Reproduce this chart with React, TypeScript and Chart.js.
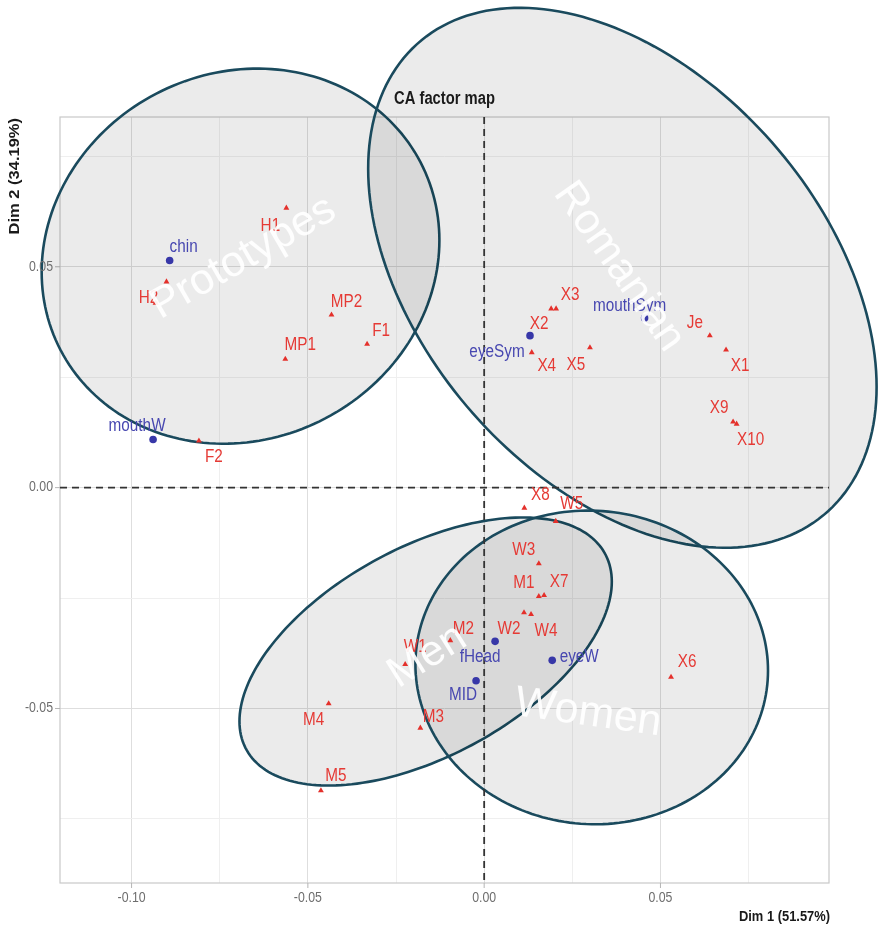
import React, { useEffect, useRef } from 'react';
import { Chart, registerables } from 'chart.js';

Chart.register(...registerables);

// ---------- DATA ----------
// Row points (red triangles)
const rowNames = ['H1', 'H2', '', 'MP1', 'MP2', 'F1', 'F2', 'X1', 'X2', 'X3', 'X4', 'X5', 'X6', 'X7', 'X8', 'X9', 'X10', 'Je', 'M1', 'M2', 'M3', 'M4', 'M5', 'W1', 'W2', 'W3', 'W4', 'W5'];
const rowX = [-0.0561, -0.0901, -0.0932, -0.0564, -0.0433, -0.0332, -0.0809, 0.0686, 0.0190, 0.0204, 0.0135, 0.0300, 0.0530, 0.0170, 0.0114, 0.0706, 0.0716, 0.0640, 0.0155, -0.0096, -0.0181, -0.0441, -0.0463, -0.0224, 0.0113, 0.0155, 0.0133, 0.0203];
const rowY = [0.0633, 0.0466, 0.0418, 0.0291, 0.0391, 0.0325, 0.0106, 0.0312, 0.0405, 0.0405, 0.0306, 0.0317, -0.0429, -0.0244, -0.0046, 0.0149, 0.0144, 0.0344, -0.0246, -0.0346, -0.0544, -0.0489, -0.0686, -0.0400, -0.0283, -0.0172, -0.0287, -0.0076];

// Column points (blue circles)
const colNames = ['chin', 'mouthW', 'eyeSym', 'mouthSym', 'fHead', 'eyeW', 'MID'];
const colX = [-0.0892, -0.0939, 0.0130, 0.0455, 0.0031, 0.0193, -0.0023];
const colY = [0.0514, 0.0109, 0.0344, 0.0384, -0.0348, -0.0391, -0.0437];

// Group ellipses (data units): centre, x half-range, y shift at x-extreme, remaining y radius
const ellipseNames = ['Prototypes', 'Romanian', 'Men', 'Women'];
const ellipseCx = [-0.0691, 0.0392, -0.0166, 0.0305];
const ellipseCy = [0.0524, 0.0475, -0.0371, -0.0407];
const ellipseHalfX = [0.0564, 0.0721, 0.0528, 0.0500];
const ellipseShearY = [0.0036, -0.0247, 0.0158, -0.0007];
const ellipseRadY = [0.0423, 0.0559, 0.0259, 0.0355];
const ellipseLabelX = [-0.0683, 0.0382, -0.0161, 0.0295];
const ellipseLabelY = [0.0520, 0.0500, -0.0382, -0.0511];
const ellipseLabelAngle = [-30, 55, -32, 8];

// Axes
const X_MIN = -0.1203;
const X_MAX = 0.0978;
const Y_MIN = -0.0895;
const Y_MAX = 0.0839;
const xGridValues = [-0.1, -0.075, -0.05, -0.025, 0, 0.025, 0.05, 0.075];
const yGridValues = [-0.075, -0.05, -0.025, 0, 0.025, 0.05, 0.075];
const xTickValues = [-0.1, -0.05, 0, 0.05];
const xTickLabels = ['-0.10', '-0.05', '0.00', '0.05'];
const yTickValues = [-0.05, 0, 0.05];
const yTickLabels = ['-0.05', '0.00', '0.05'];
const titleText = 'CA factor map';
const xTitle = 'Dim 1 (51.57%)';
const yTitle = 'Dim 2 (34.19%)';

// Label offsets (pixels, label centre relative to point)
const rowLabelDx = [-16, -18, 0, 15, 15, 14, 15, 14, -12, 14, 15, -14, 16, 15, 16, -14, 14, -15, -15, 13, 13, -15, 15, 10, -15, -15, 15, 16];
const rowLabelDy = [18, 16, 0, -14, -13, -13, 16, 16, 15, -14, 14, 17, -15, -13, -13, -14, 16, -13, -13, -11, -11, 16, -15, -17, 16, -14, 17, -17];
const colLabelDx = [14, -16, -33, -15, -15, 27, -13];
const colLabelDy = [-14, -13, 16, -12, 16, -3, 14];

// ---------- STYLE ----------
const FONT = '"Liberation Sans", Arial, Helvetica, sans-serif';
const RED = '#e4302b';
const RED_TEXT = '#e53a35';
const BLUE = '#3737a8';
const BLUE_TEXT = '#4747b0';
const ELLIPSE_STROKE = '#1a4a5d';
const ELLIPSE_FILL = 'rgba(0,0,0,0.08)';
const SX = 0.85;

function isMajor(v: number) {
  const r = v / 0.05;
  return Math.abs(r - Math.round(r)) < 1e-6;
}

function scaledText(ctx: CanvasRenderingContext2D, text: string, x: number, y: number, font: string, color: string, sx: number, align: CanvasTextAlign = 'center', baseline: CanvasTextBaseline = 'middle') {
  ctx.save();
  ctx.translate(x, y);
  ctx.scale(sx, 1);
  ctx.font = font;
  ctx.fillStyle = color;
  ctx.textAlign = align;
  ctx.textBaseline = baseline;
  ctx.fillText(text, 0, 0);
  ctx.restore();
}

const caPlugin = {
  id: 'caMap',
  beforeDatasetsDraw(chart: any) {
    const { ctx, chartArea: a } = chart;
    const xs = chart.scales.x;
    const ys = chart.scales.y;
    ctx.save();
    // panel border
    ctx.strokeStyle = '#c9c9c9';
    ctx.lineWidth = 1.2;
    ctx.strokeRect(a.left, a.top, a.right - a.left, a.bottom - a.top);
    // tick marks
    ctx.strokeStyle = '#b5b5b5';
    ctx.lineWidth = 1;
    xTickValues.forEach((v) => {
      const px = xs.getPixelForValue(v);
      ctx.beginPath();
      ctx.moveTo(px, a.bottom);
      ctx.lineTo(px, a.bottom + 5);
      ctx.stroke();
    });
    yTickValues.forEach((v) => {
      const py = ys.getPixelForValue(v);
      ctx.beginPath();
      ctx.moveTo(a.left - 5, py);
      ctx.lineTo(a.left, py);
      ctx.stroke();
    });
    // ellipses
    for (let i = 0; i < ellipseNames.length; i++) {
      ctx.beginPath();
      const N = 200;
      for (let k = 0; k <= N; k++) {
        const t = (k / N) * Math.PI * 2;
        const dx = ellipseCx[i] + ellipseHalfX[i] * Math.cos(t);
        const dy = ellipseCy[i] + ellipseShearY[i] * Math.cos(t) + ellipseRadY[i] * Math.sin(t);
        const px = xs.getPixelForValue(dx);
        const py = ys.getPixelForValue(dy);
        if (k === 0) ctx.moveTo(px, py);
        else ctx.lineTo(px, py);
      }
      ctx.closePath();
      ctx.fillStyle = ELLIPSE_FILL;
      ctx.fill();
      ctx.strokeStyle = ELLIPSE_STROKE;
      ctx.lineWidth = 2.6;
      ctx.stroke();
    }
    // zero lines
    ctx.strokeStyle = '#333333';
    ctx.lineWidth = 1.8;
    ctx.setLineDash([7, 5]);
    const x0 = xs.getPixelForValue(0);
    const y0 = ys.getPixelForValue(0);
    ctx.beginPath();
    ctx.moveTo(x0, a.top);
    ctx.lineTo(x0, a.bottom);
    ctx.stroke();
    ctx.beginPath();
    ctx.moveTo(a.left, y0);
    ctx.lineTo(a.right, y0);
    ctx.stroke();
    ctx.setLineDash([]);
    ctx.restore();
  },
  afterDatasetsDraw(chart: any) {
    const { ctx } = chart;
    const xs = chart.scales.x;
    const ys = chart.scales.y;
    const f = `18px ${FONT}`;
    rowNames.forEach((n, i) => {
      if (!n) return;
      const px = xs.getPixelForValue(rowX[i]) + rowLabelDx[i];
      const py = ys.getPixelForValue(rowY[i]) + rowLabelDy[i];
      scaledText(ctx, n, px, py, f, RED_TEXT, SX);
    });
    colNames.forEach((n, i) => {
      const px = xs.getPixelForValue(colX[i]) + colLabelDx[i];
      const py = ys.getPixelForValue(colY[i]) + colLabelDy[i];
      scaledText(ctx, n, px, py, f, BLUE_TEXT, SX);
    });
  },
  afterDraw(chart: any) {
    const { ctx, chartArea: a } = chart;
    const xs = chart.scales.x;
    const ys = chart.scales.y;
    // ellipse names
    ellipseNames.forEach((n, i) => {
      ctx.save();
      ctx.translate(xs.getPixelForValue(ellipseLabelX[i]), ys.getPixelForValue(ellipseLabelY[i]));
      ctx.rotate((ellipseLabelAngle[i] * Math.PI) / 180);
      ctx.font = `43px ${FONT}`;
      ctx.fillStyle = 'rgba(255,255,255,0.93)';
      ctx.textAlign = 'center';
      ctx.textBaseline = 'middle';
      ctx.fillText(n, 0, 0);
      ctx.restore();
    });
    // tick labels
    const tf = `14px ${FONT}`;
    xTickValues.forEach((v, i) => {
      scaledText(ctx, xTickLabels[i], xs.getPixelForValue(v), a.bottom + 15, tf, '#6e6e6e', 0.88);
    });
    yTickValues.forEach((v, i) => {
      scaledText(ctx, yTickLabels[i], a.left - 7, ys.getPixelForValue(v), tf, '#6e6e6e', 0.88, 'right');
    });
    // title
    scaledText(ctx, titleText, (a.left + a.right) / 2, a.top - 13, `bold 18px ${FONT}`, '#1a1a1a', 0.82, 'center', 'alphabetic');
    // x title
    scaledText(ctx, xTitle, a.right + 1, a.bottom + 38, `bold 15px ${FONT}`, '#1a1a1a', 0.86, 'right', 'alphabetic');
    // y title
    ctx.save();
    ctx.translate(15, a.top + 1);
    ctx.rotate(-Math.PI / 2);
    ctx.scale(1, 0.85);
    ctx.font = `bold 16.5px ${FONT}`;
    ctx.fillStyle = '#1a1a1a';
    ctx.textAlign = 'right';
    ctx.textBaseline = 'middle';
    ctx.fillText(yTitle, 0, 0);
    ctx.restore();
  },
};

export default function App() {
  const ref = useRef<HTMLCanvasElement | null>(null);

  useEffect(() => {
    if (!ref.current) return;
    const chart = new Chart(ref.current, {
      type: 'scatter',
      data: {
        datasets: [
          {
            label: 'rows',
            data: rowX.map((x, i) => ({ x, y: rowY[i] })),
            pointStyle: 'triangle',
            pointRadius: 3.4,
            backgroundColor: RED,
            borderColor: RED,
            borderWidth: 0,
          },
          {
            label: 'columns',
            data: colX.map((x, i) => ({ x, y: colY[i] })),
            pointStyle: 'circle',
            pointRadius: 3.8,
            backgroundColor: BLUE,
            borderColor: BLUE,
            borderWidth: 0,
          },
        ],
      },
      options: {
        responsive: false,
        animation: false,
        events: [],
        layout: { padding: { top: 117, right: 49, left: 0, bottom: 0 } },
        plugins: {
          legend: { display: false },
          tooltip: { enabled: false },
          title: { display: false },
        },
        scales: {
          x: {
            type: 'linear',
            min: X_MIN,
            max: X_MAX,
            afterBuildTicks: (s: any) => {
              s.ticks = xGridValues.map((v) => ({ value: v }));
            },
            afterFit: (s: any) => {
              s.height = 46;
            },
            ticks: { display: false },
            grid: {
              color: (c: any) => (c.tick && isMajor(c.tick.value) ? '#dedede' : '#efefef'),
              lineWidth: 1,
              drawTicks: false,
            },
            border: { display: false },
          },
          y: {
            type: 'linear',
            min: Y_MIN,
            max: Y_MAX,
            afterBuildTicks: (s: any) => {
              s.ticks = yGridValues.map((v) => ({ value: v }));
            },
            afterFit: (s: any) => {
              s.width = 60;
            },
            ticks: { display: false },
            grid: {
              color: (c: any) => (c.tick && isMajor(c.tick.value) ? '#dedede' : '#efefef'),
              lineWidth: 1,
              drawTicks: false,
            },
            border: { display: false },
          },
        },
      },
      plugins: [caPlugin],
    } as any);
    return () => chart.destroy();
  }, []);

  return (
    <canvas
      ref={ref}
      width={878}
      height={929}
      style={{ position: 'absolute', left: 0, top: 0, width: 878, height: 929, display: 'block', background: '#ffffff' }}
    />
  );
}
